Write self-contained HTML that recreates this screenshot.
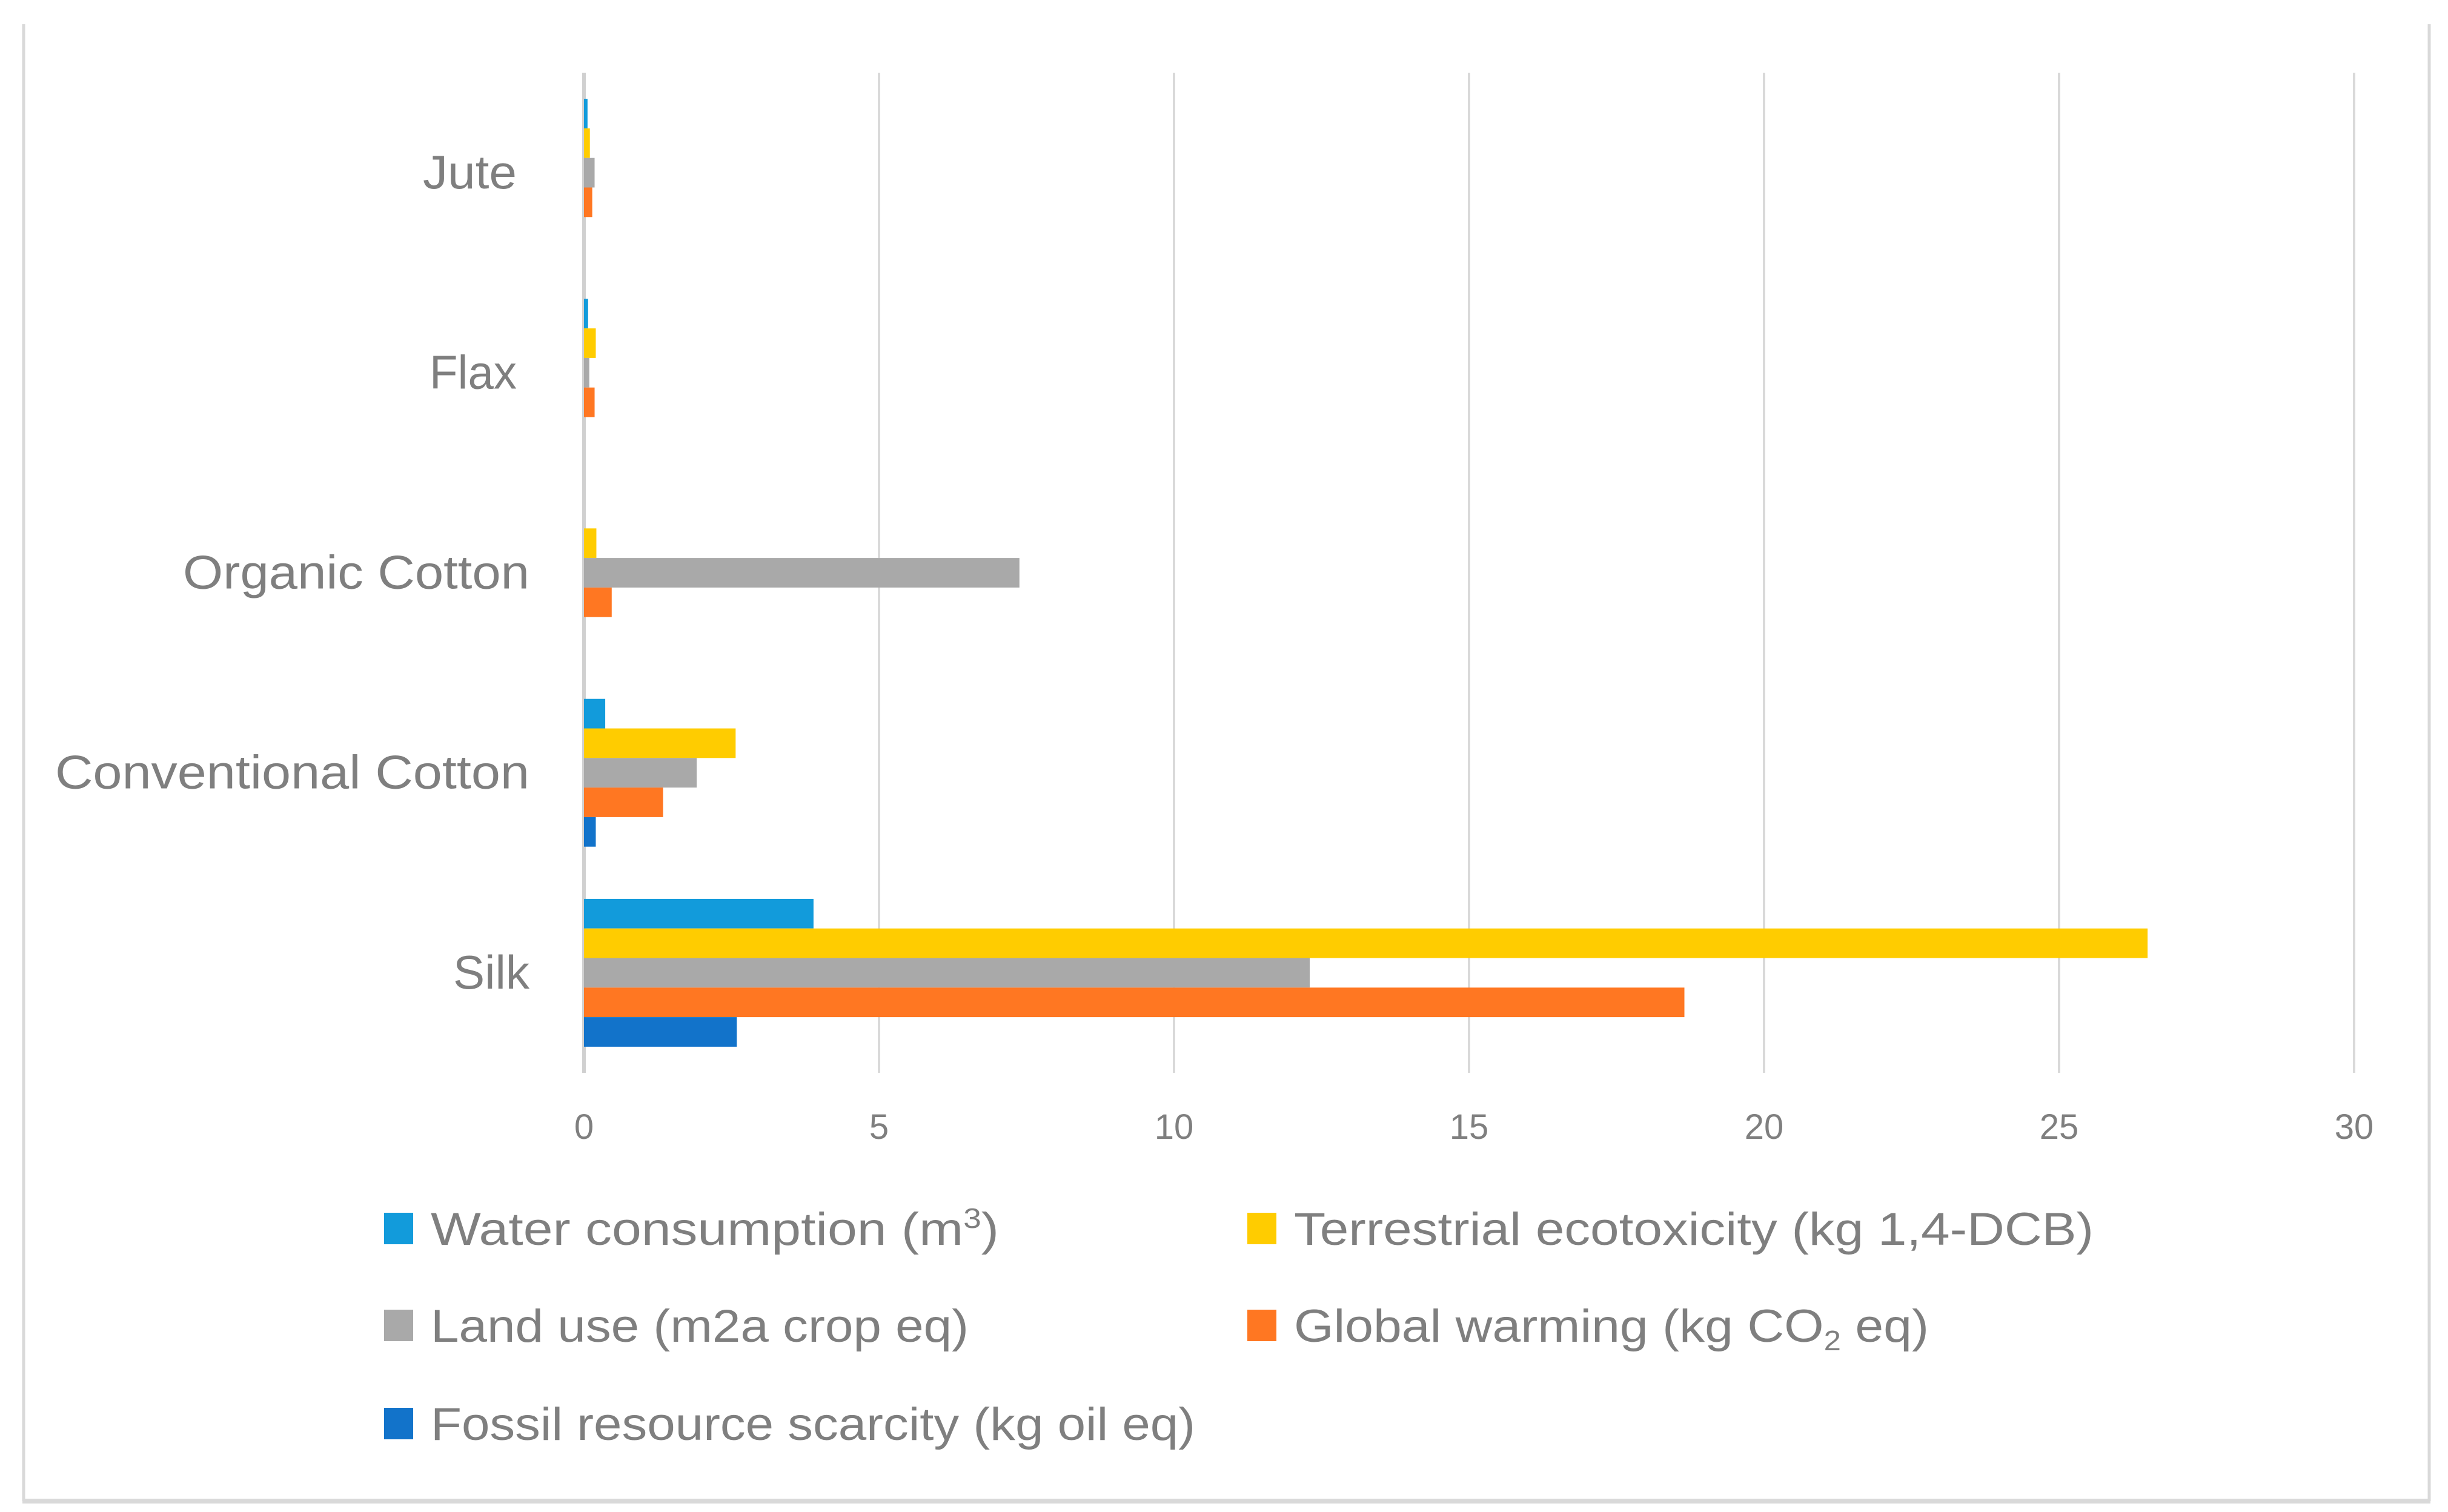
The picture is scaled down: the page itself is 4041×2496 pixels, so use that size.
<!DOCTYPE html>
<html><head><meta charset="utf-8"><style>
html,body{margin:0;padding:0;background:#fff;}
svg{display:block;font-family:"Liberation Sans",sans-serif;}
</style></head><body>
<svg id="chart" width="4041" height="2496" viewBox="0 0 4041 2496">
<rect x="0" y="0" width="4041" height="2496" fill="#fff"/>
<g>
<line x1="39" y1="40" x2="39" y2="2478" stroke="#d9d9d9" stroke-width="5"/>
<line x1="4010" y1="40" x2="4010" y2="2478" stroke="#d9d9d9" stroke-width="5"/>
<line x1="37" y1="2478" x2="4012" y2="2478" stroke="#d9d9d9" stroke-width="8"/>
</g>
<g id="grid"></g>
<g id="bars"></g>
<g id="ylabels"></g>
<g id="xlabels"></g>
<g id="legend"></g>
</svg>
<script>
const categories = ["Jute","Flax","Organic Cotton","Conventional Cotton","Silk"];
const water = [0.06,0.07,0,0.36,3.89];
const ecotox = [0.1,0.2,0.21,2.57,26.5];
const landUse = [0.18,0.09,7.38,1.91,12.3];
const warming = [0.14,0.18,0.47,1.34,18.65];
const fossil = [0,0,0,0.2,2.59];
const xTicks = [0,5,10,15,20,25,30];

const NS="http://www.w3.org/2000/svg";
const X0=964, X1=3886, XMAX=30, TOP=120, BOT=1771;
const xs=v=>X0+(v/XMAX)*(X1-X0);
const band=(BOT-TOP)/categories.length;
const barH=48.8;
const labelW={"Jute":155,"Flax":144,"Organic Cotton":572,"Conventional Cotton":783,"Silk":126};
const labelEnd={"Jute":853,"Flax":853,"Organic Cotton":874,"Conventional Cotton":874,"Silk":874};
function mk(tag,attrs,parent){const e=document.createElementNS(NS,tag);for(const k in attrs)e.setAttribute(k,attrs[k]);parent.appendChild(e);return e;}
const grid=document.getElementById('grid');
xTicks.forEach(t=>{
  const l=mk('line',{x1:xs(t),x2:xs(t),y1:TOP,y2:BOT,stroke:t===0?'#d0d0d0':'#d9d9d9','stroke-width':t===0?6:4},grid);
  
  
  const tx=mk('text',{x:xs(t),y:1880,'font-size':58,fill:'#7f7f7f','text-anchor':'middle'},document.getElementById('xlabels'));
  tx.textContent=t;
  
  
});
const series=[
  {name:'water',vals:water,color:'#129BDB'},
  {name:'ecotox',vals:ecotox,color:'#FFCC00'},
  {name:'land-use',vals:landUse,color:'#A9A9A9'},
  {name:'warming',vals:warming,color:'#FF7722'},
  {name:'fossil',vals:fossil,color:'#1273CA'}
];
const barsG=document.getElementById('bars');
categories.forEach((c,i)=>{
  const center=TOP+band*(i+0.5);
  const start=center-barH*series.length/2;
  series.forEach((s,j)=>{
    const v=s.vals[i];
    if(v<=0)return;
    const r=mk('rect',{x:xs(0),y:start+j*barH,width:xs(v)-xs(0),height:barH,fill:s.color},barsG);
    
    
  });
  const w=labelW[c]||400, e=labelEnd[c]||874;
  const t=mk('text',{x:e-w,y:center+26,'font-size':78,fill:'#7f7f7f',textLength:w,lengthAdjust:'spacingAndGlyphs'},document.getElementById('ylabels'));
  t.textContent=c;
  
  
});
</script>
<script>
(function(){
const NS="http://www.w3.org/2000/svg";
const lg=document.getElementById('legend');
const items=[
 {x:634,y:2028,c:'#129BDB',html:'Water consumption (m<tspan font-size="46" dy="-28">3</tspan><tspan dy="28">)</tspan>',w:938,n:'legend-water'},
 {x:2059,y:2028,c:'#FFCC00',html:'Terrestrial ecotoxicity (kg 1,4-DCB)',w:1320,n:'legend-ecotox'},
 {x:634,y:2188,c:'#A9A9A9',html:'Land use (m2a crop eq)',w:888,n:'legend-land-use'},
 {x:2059,y:2188,c:'#FF7722',html:'Global warming (kg CO<tspan font-size="46" dy="14">2</tspan><tspan dy="-14"> eq)</tspan>',w:1048,n:'legend-warming'},
 {x:634,y:2350,c:'#1273CA',html:'Fossil resource scarcity (kg oil eq)',w:1262,n:'legend-fossil'}
];
items.forEach(it=>{
  const g=document.createElementNS(NS,'g');
  
  
  lg.appendChild(g);
  const r=document.createElementNS(NS,'rect');
  r.setAttribute('x',it.x);r.setAttribute('y',it.y-26);r.setAttribute('width',48);r.setAttribute('height',52);r.setAttribute('fill',it.c);
  
  
  g.appendChild(r);
  const t=document.createElementNS(NS,'text');
  t.setAttribute('x',it.x+77);t.setAttribute('y',it.y+27);t.setAttribute('font-size',76);t.setAttribute('fill','#7f7f7f');
  t.setAttribute('textLength',it.w);t.setAttribute('lengthAdjust','spacingAndGlyphs');
  t.innerHTML=it.html;
  
  
  g.appendChild(t);
});
})();
</script>
</body></html>
